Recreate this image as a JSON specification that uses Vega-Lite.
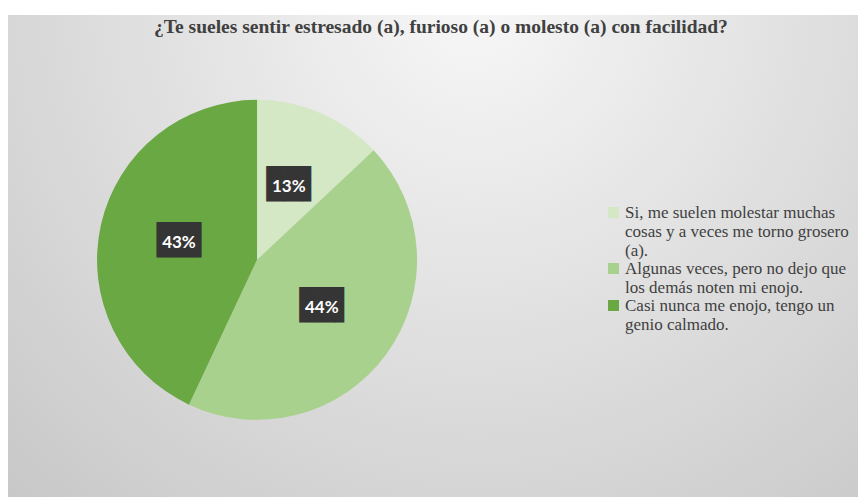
{
  "$schema": "https://vega.github.io/schema/vega-lite/v6.json",
  "width": 858,
  "height": 497,
  "autosize": {"type": "fit", "contains": "padding"},
  "padding": {"left": 8, "top": 15, "right": 0, "bottom": 0},
  "background": "white",
  "config": {
    "view": {
      "stroke": null,
      "fill": {"gradient": "radial", "x1": 0.55, "y1": 0.2, "r1": 0, "x2": 0.55, "y2": 0.2, "r2": 0.95,
        "stops": [{"offset": 0, "color": "#f7f7f7"}, {"offset": 1, "color": "#bfbfbf"}]}
    }
  },
  "datasets": {
    "respuestas": [
      {"respuesta": "Si, me suelen molestar muchas cosas y a veces me torno grosero (a).", "porcentaje": 13, "etiqueta": "13%", "orden": 1},
      {"respuesta": "Algunas veces, pero no dejo que los demás noten mi enojo.", "porcentaje": 44, "etiqueta": "44%", "orden": 2},
      {"respuesta": "Casi nunca me enojo, tengo un genio calmado.", "porcentaje": 43, "etiqueta": "43%", "orden": 3}
    ],
    "titulo": [
      {"titulo": "¿Te sueles sentir estresado (a), furioso (a) o molesto (a) con facilidad?"}
    ]
  },
  "data": {"name": "respuestas"},
  "encoding": {
    "x": {"datum": 0.293, "type": "quantitative", "scale": {"domain": [0, 1], "nice": false, "zero": false}, "axis": null},
    "y": {"datum": 0.492, "type": "quantitative", "scale": {"domain": [0, 1], "nice": false, "zero": false}, "axis": null}
  },
  "layer": [
    {
      "mark": {"type": "arc", "outerRadius": 160},
      "encoding": {
        "theta": {"field": "porcentaje", "type": "quantitative", "stack": true},
        "order": {"field": "orden", "type": "quantitative"},
        "color": {
          "field": "respuesta",
          "type": "nominal",
          "scale": {
            "domain": [
              "Si, me suelen molestar muchas cosas y a veces me torno grosero (a).",
              "Algunas veces, pero no dejo que los demás noten mi enojo.",
              "Casi nunca me enojo, tengo un genio calmado."
            ],
            "range": ["#d4e8c6", "#a9d18e", "#6aa843"]
          },
          "legend": {
            "orient": "none",
            "legendX": 597,
            "legendY": 189,
            "title": null,
            "padding": 0,
            "symbolType": "square",
            "symbolSize": 121,
            "symbolStrokeWidth": 0,
            "labelFont": "Liberation Serif",
            "labelFontSize": 17,
            "labelColor": "#3f3f3f",
            "labelLimit": 400,
            "labelOffset": 3,
            "labelBaseline": "middle",
            "rowPadding": 0,
            "labelExpr": "indexof(datum.label,'Si,')==0 ? ['Si, me suelen molestar muchas','cosas y a veces me torno grosero','(a).'] : indexof(datum.label,'Algunas')==0 ? ['Algunas veces, pero no dejo que','los demás noten mi enojo.'] : ['Casi nunca me enojo, tengo un','genio calmado.']"
          }
        }
      }
    },
    {
      "mark": {"type": "text", "radius": 80, "text": "██▌", "font": "DejaVu Sans Mono", "fontSize": 30, "color": "#353535", "baseline": "middle", "align": "center", "dx": 4.5, "dy": -1},
      "encoding": {
        "theta": {"field": "porcentaje", "type": "quantitative", "stack": true},
        "order": {"field": "orden", "type": "quantitative"},
        "detail": {"field": "respuesta", "type": "nominal"}
      }
    },
    {
      "mark": {"type": "text", "radius": 80, "font": "Lato", "fontWeight": "bold", "fontSize": 17, "color": "#ffffff", "baseline": "middle", "align": "center", "dy": 1},
      "encoding": {
        "theta": {"field": "porcentaje", "type": "quantitative", "stack": true},
        "order": {"field": "orden", "type": "quantitative"},
        "detail": {"field": "respuesta", "type": "nominal"},
        "text": {"field": "etiqueta", "type": "nominal"}
      }
    },
    {
      "data": {"name": "titulo"},
      "mark": {"type": "text", "font": "Liberation Serif", "fontSize": 19.5, "fontWeight": "bold", "color": "#404040", "baseline": "alphabetic", "align": "center"},
      "encoding": {
        "x": {"datum": 0.5094, "type": "quantitative"},
        "y": {"datum": 0.9627, "type": "quantitative"},
        "text": {"field": "titulo", "type": "nominal"}
      }
    }
  ]
}
